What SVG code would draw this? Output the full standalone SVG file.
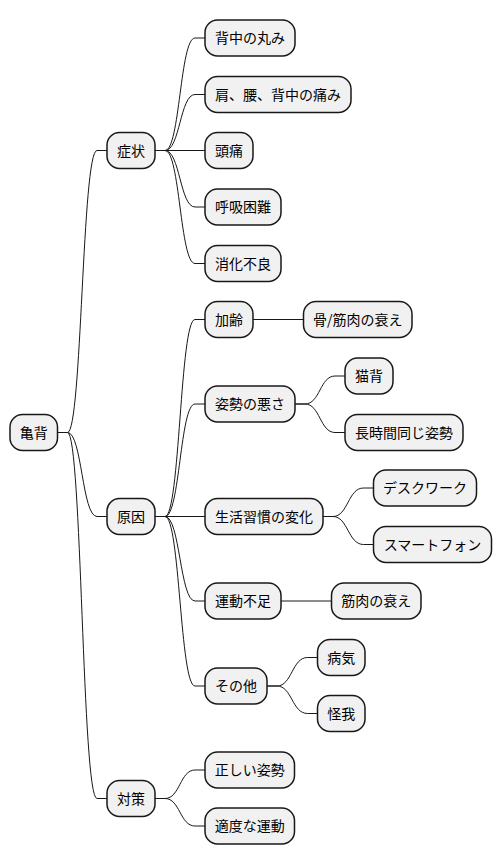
<svg xmlns="http://www.w3.org/2000/svg" width="502" height="865" viewBox="0 0 502 865">
<style>
.n rect{fill:#F1F1F1;stroke:#181818;stroke-width:1.5}
.n text{font-family:"Noto Sans CJK JP","Noto Sans",sans-serif;font-size:14px;fill:#000;text-anchor:middle}
#connectors path{fill:none;stroke:#181818;stroke-width:1}
</style>
<rect width="502" height="865" fill="#fff"/>
<g id="connectors">
<path d="M57.5,432.5 L67.5,432.5 C82,432.5 82,150.5 97,150.5 L107,150.5"/>
<path d="M57.5,432.5 L67.5,432.5 C82,432.5 82,516.5 97,516.5 L107,516.5"/>
<path d="M57.5,432.5 L67.5,432.5 C82,432.5 82,798.5 97,798.5 L107,798.5"/>
<path d="M155,150.5 L165,150.5 C180,150.5 180,38 195,38 L205,38"/>
<path d="M155,150.5 L165,150.5 C180,150.5 180,94.5 195,94.5 L205,94.5"/>
<path d="M155,150.5 L205,150.5"/>
<path d="M155,150.5 L165,150.5 C180,150.5 180,207 195,207 L205,207"/>
<path d="M155,150.5 L165,150.5 C180,150.5 180,263.5 195,263.5 L205,263.5"/>
<path d="M155,516.5 L165,516.5 C180,516.5 180,319.5 195,319.5 L205,319.5"/>
<path d="M155,516.5 L165,516.5 C180,516.5 180,404 195,404 L205,404"/>
<path d="M155,516.5 L205,516.5"/>
<path d="M155,516.5 L165,516.5 C180,516.5 180,601 195,601 L205,601"/>
<path d="M155,516.5 L165,516.5 C180,516.5 180,686 195,686 L205,686"/>
<path d="M155,798.5 L165,798.5 C180,798.5 180,770 195,770 L205,770"/>
<path d="M155,798.5 L165,798.5 C180,798.5 180,826 195,826 L205,826"/>
<path d="M253,319.5 L303.5,319.5"/>
<path d="M295,404 L305,404 C320,404 320,376 335,376 L345,376"/>
<path d="M295,404 L305,404 C320,404 320,432.5 335,432.5 L345,432.5"/>
<path d="M323,516.5 L333,516.5 C348,516.5 348,488 363.5,488 L373.5,488"/>
<path d="M323,516.5 L333,516.5 C348,516.5 348,544.5 363.5,544.5 L373.5,544.5"/>
<path d="M281,601 L331.5,601"/>
<path d="M267,686 L277,686 C292,686 292,657.5 307.5,657.5 L317.5,657.5"/>
<path d="M267,686 L277,686 C292,686 292,713.5 307.5,713.5 L317.5,713.5"/>
</g>
<g id="n0" class="n"><rect x="10" y="414.5" width="47.5" height="36" rx="12.5"/><text x="33.75" y="437.5">亀背</text></g>
<g id="n1" class="n"><rect x="107" y="132.5" width="48" height="36" rx="12.5"/><text x="131" y="155.5">症状</text></g>
<g id="n2" class="n"><rect x="205" y="20" width="90" height="36" rx="12.5"/><text x="250" y="43">背中の丸み</text></g>
<g id="n3" class="n"><rect x="205" y="76.5" width="146" height="36" rx="12.5"/><text x="278" y="99.5">肩、腰、背中の痛み</text></g>
<g id="n4" class="n"><rect x="205" y="132.5" width="48" height="36" rx="12.5"/><text x="229" y="155.5">頭痛</text></g>
<g id="n5" class="n"><rect x="205" y="189" width="76" height="36" rx="12.5"/><text x="243" y="212">呼吸困難</text></g>
<g id="n6" class="n"><rect x="205" y="245.5" width="76" height="36" rx="12.5"/><text x="243" y="268.5">消化不良</text></g>
<g id="n7" class="n"><rect x="107" y="498.5" width="48" height="36" rx="12.5"/><text x="131" y="521.5">原因</text></g>
<g id="n8" class="n"><rect x="205" y="301.5" width="48" height="36" rx="12.5"/><text x="229" y="324.5">加齢</text></g>
<g id="n9" class="n"><rect x="303.5" y="301.5" width="108.5" height="36" rx="12.5"/><text x="357.75" y="324.5">骨/筋肉の衰え</text></g>
<g id="n10" class="n"><rect x="205" y="386" width="90" height="36" rx="12.5"/><text x="250" y="409">姿勢の悪さ</text></g>
<g id="n11" class="n"><rect x="345" y="358" width="48" height="36" rx="12.5"/><text x="369" y="381">猫背</text></g>
<g id="n12" class="n"><rect x="345" y="414.5" width="118" height="36" rx="12.5"/><text x="404" y="437.5">長時間同じ姿勢</text></g>
<g id="n13" class="n"><rect x="205" y="498.5" width="118" height="36" rx="12.5"/><text x="264" y="521.5">生活習慣の変化</text></g>
<g id="n14" class="n"><rect x="373.5" y="470" width="103" height="36" rx="12.5"/><text x="425" y="493">デスクワーク</text></g>
<g id="n15" class="n"><rect x="373.5" y="526.5" width="118" height="36" rx="12.5"/><text x="432.5" y="549.5">スマートフォン</text></g>
<g id="n16" class="n"><rect x="205" y="583" width="76" height="36" rx="12.5"/><text x="243" y="606">運動不足</text></g>
<g id="n17" class="n"><rect x="331.5" y="583" width="89.5" height="36" rx="12.5"/><text x="376.25" y="606">筋肉の衰え</text></g>
<g id="n18" class="n"><rect x="205" y="668" width="62" height="36" rx="12.5"/><text x="236" y="691">その他</text></g>
<g id="n19" class="n"><rect x="317.5" y="639.5" width="47.5" height="36" rx="12.5"/><text x="341.25" y="662.5">病気</text></g>
<g id="n20" class="n"><rect x="317.5" y="695.5" width="47.5" height="36" rx="12.5"/><text x="341.25" y="718.5">怪我</text></g>
<g id="n21" class="n"><rect x="107" y="780.5" width="48" height="36" rx="12.5"/><text x="131" y="803.5">対策</text></g>
<g id="n22" class="n"><rect x="205" y="752" width="89.5" height="36" rx="12.5"/><text x="249.75" y="775">正しい姿勢</text></g>
<g id="n23" class="n"><rect x="205" y="808" width="89.5" height="36" rx="12.5"/><text x="249.75" y="831">適度な運動</text></g>
</svg>
